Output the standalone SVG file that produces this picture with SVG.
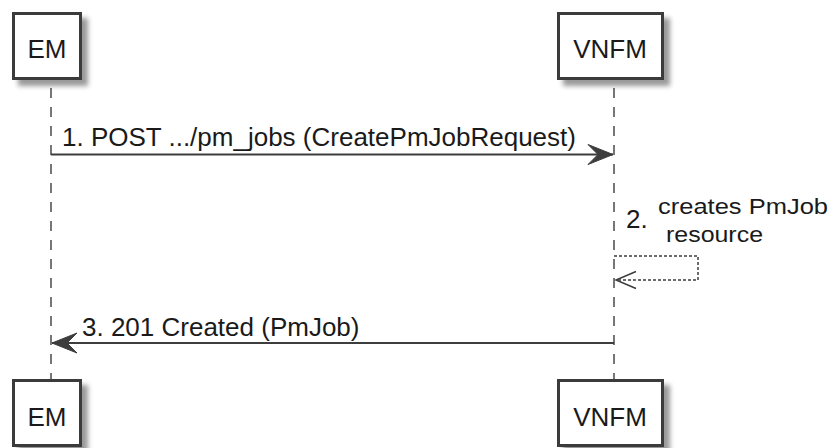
<svg xmlns="http://www.w3.org/2000/svg" width="835" height="448" viewBox="0 0 835 448">
<style>
  .box { fill: #ffffff; stroke: #3a3a3a; stroke-width: 3; filter: url(#shadow); }
  .lifeline { stroke: #555555; stroke-width: 1.6; stroke-dasharray: 10 9; fill: none; }
  .pname { font-family: "Liberation Sans", Arial, sans-serif; font-size: 26px; fill: #1a1a1a; text-anchor: middle; }
  .msg { stroke: #3d3d3d; stroke-width: 2; fill: none; }
  .self { stroke: #3d3d3d; stroke-width: 1.5; stroke-dasharray: 3 2; fill: none; }
  .lbl { font-family: "Liberation Sans", Arial, sans-serif; font-size: 26px; fill: #1a1a1a; }
  .lbl2 { font-family: "Liberation Sans", Arial, sans-serif; font-size: 22px; fill: #1a1a1a; }
</style>
<defs>
  <filter id="shadow" x="-20%" y="-20%" width="150%" height="150%">
    <feDropShadow dx="6" dy="6" stdDeviation="2.5" flood-color="#000000" flood-opacity="0.4"/>
  </filter>
  <marker id="filled" markerUnits="userSpaceOnUse" viewBox="-26 -11 27 22" refX="0" refY="0" markerWidth="27" markerHeight="22" orient="auto">
    <path d="M0,0 L-25,-10 L-15,0 L-25,10 Z" fill="#3d3d3d" stroke="#3d3d3d" stroke-width="1"/>
  </marker>
  <marker id="open" markerUnits="userSpaceOnUse" viewBox="-22 -10 24 20" refX="0" refY="0" markerWidth="24" markerHeight="20" orient="auto">
    <path d="M-20,-8.5 L0,0 L-20,8.5" fill="none" stroke="#3d3d3d" stroke-width="1.5"/>
  </marker>
</defs>
<rect x="0" y="0" width="835" height="448" fill="#ffffff"/>

<g id="EM">
  <line class="lifeline" x1="51" y1="88" x2="51" y2="379"/>
  <rect class="box" x="13.5" y="13.5" width="67" height="65"/>
  <text class="pname" x="47" y="58">EM</text>
  <rect class="box" x="13.5" y="380.5" width="67" height="65"/>
  <text class="pname" x="47" y="426">EM</text>
</g>

<g id="VNFM">
  <line class="lifeline" x1="614" y1="88" x2="614" y2="379"/>
  <rect class="box" x="558.5" y="13.5" width="104" height="65"/>
  <text class="pname" x="610" y="58">VNFM</text>
  <rect class="box" x="558.5" y="380.5" width="104" height="65"/>
  <text class="pname" x="610" y="426">VNFM</text>
</g>

<g id="connectors">
  <g id="msg1">
    <line class="msg" x1="51" y1="154.5" x2="613" y2="154.5" marker-end="url(#filled)"/>
    <text class="lbl" x="62" y="146">1. POST .../pm_jobs (CreatePmJobRequest)</text>
  </g>
  <g id="msg2">
    <path class="self" d="M614,256 H698 V280 H616" marker-end="url(#open)"/>
    <text class="lbl" x="626" y="228">2.</text>
    <text class="lbl2" x="658" y="214" textLength="170" lengthAdjust="spacingAndGlyphs">creates PmJob</text>
    <text class="lbl2" x="666" y="242" textLength="97" lengthAdjust="spacingAndGlyphs">resource</text>
  </g>
  <g id="msg3">
    <line class="msg" x1="614" y1="343" x2="52" y2="343" marker-end="url(#filled)"/>
    <text class="lbl" x="82" y="336">3. 201 Created (PmJob)</text>
  </g>
</g>
</svg>
